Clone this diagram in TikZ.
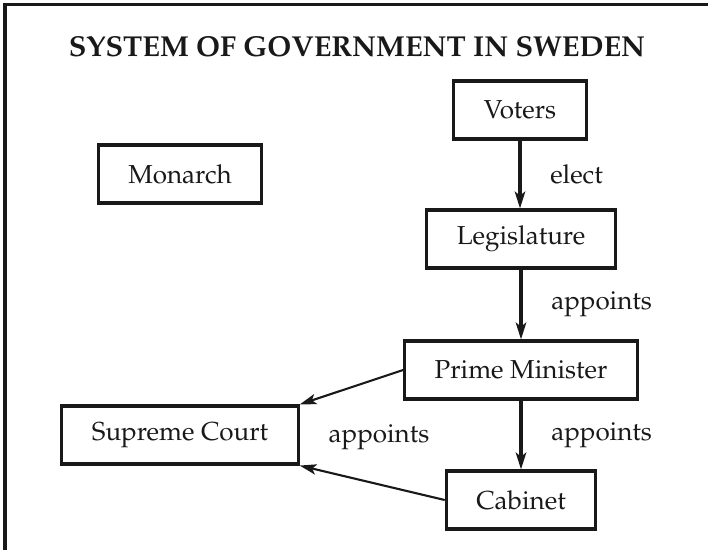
\documentclass[tikz,border=0pt]{standalone}
\usepackage[T1]{fontenc}
\usepackage{mathpazo}
\usepackage{tikz}
\usetikzlibrary{arrows.meta}

\tikzset{
  govbox/.style={draw, line width=2.2pt, inner xsep=0.75cm, minimum height=1.45cm,
    font=\fontsize{18.5}{22}\selectfont},
  govlabel/.style={font=\fontsize{18.5}{22}\selectfont},
  bigarrow/.style={-{Stealth[length=0.42cm,width=0.26cm,inset=0.1cm]}, line width=2.2pt},
  thinarrow/.style={-{Stealth[length=0.42cm,width=0.26cm,inset=0.1cm]}, line width=1.5pt}
}

\begin{document}
\begin{tikzpicture}[x=0.025cm,y=-0.025cm, color=black!90]
                \useasboundingbox (0,0) rectangle (708,550);
                \draw[line width=2.2pt](5,550) -- (5,4.5) -- (708,4.5);
                \node (title) at (357,47) {\fontsize{20.5}{24}\selectfont\bfseries SYSTEM OF GOVERNMENT IN SWEDEN};
                \node[govbox] (voters) at (520,110) {Voters};
                \node[govbox] (monarch) at (180,174) {Monarch};
                \node[govbox] (legis) at (521,239) {Legislature};
                \node[govbox] (pm) at (521,370) {Prime Minister};
                \node[govbox] (cabinet) at (521,500) {Cabinet};
                \node[govbox] (court) at (180,435) {Supreme Court};
                \draw[bigarrow](voters.south) -- node[govlabel, right, xshift=0.6cm]{elect} (voters.south |- legis.north);
                \draw[bigarrow](legis.south) -- node[govlabel, right, xshift=0.6cm]{appoints} (legis.south |- pm.north);
                \draw[bigarrow](pm.south) -- node[govlabel, right, xshift=0.6cm]{appoints} (pm.south |- cabinet.north);
                \draw[thinarrow](pm.west) -- (court.north east);
                \draw[thinarrow](cabinet.west) -- (court.south east);
                \node[govlabel] (courtlabel) at (379,437) {appoints};
            \end{tikzpicture}
\end{document}
